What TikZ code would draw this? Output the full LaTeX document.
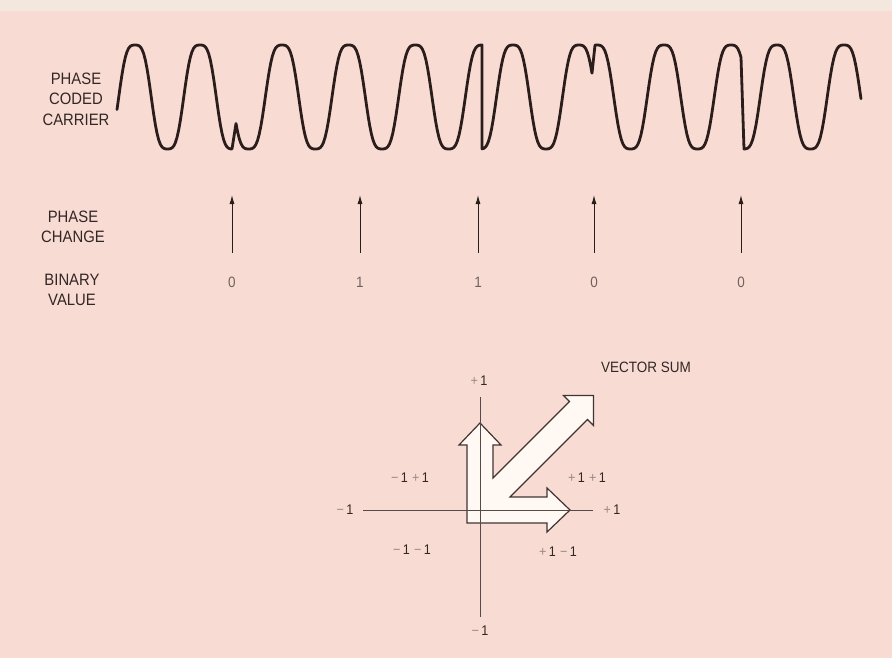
\documentclass[tikz,border=0pt]{standalone}
\usepackage{fontspec}
\setmainfont{Liberation Sans}[FakeStretch=0.9]
\usetikzlibrary{arrows.meta,positioning}
\definecolor{paperpink}{HTML}{F8DCD3}
\definecolor{paperedge}{HTML}{F3E7DE}
\definecolor{inkdark}{HTML}{2B1D1B}
\definecolor{labelgray}{HTML}{332624}
\definecolor{bitgray}{HTML}{6F615D}
\definecolor{softgray}{HTML}{9A8A86}
\definecolor{arrowfill}{HTML}{FFF8F3}
\newcommand{\sgnplus}{{\color{softgray}+}\kern2.5pt}
\newcommand{\sgnminus}{{\color{softgray}\char"2212}\kern2.5pt}

\tikzset{
  sidelabel/.style={align=center,font=\fontsize{16.5}{20.5}\selectfont,text=labelgray,inner sep=0pt},
  bitlabel/.style={font=\fontsize{15}{17}\selectfont,text=bitgray,inner sep=0pt},
  axlabel/.style={font=\fontsize{14}{16}\selectfont,text=labelgray,inner sep=0pt},
  carrier/.style={inkdark,line width=2.8pt,line join=round,line cap=round},
  pcarrow/.style={inkdark,line width=1pt,-{Latex[length=9pt,width=5pt]}},
  axisline/.style={inkdark!80,line width=0.9pt},
  blockarrow/.style={draw=inkdark!90,fill=arrowfill,line width=1.2pt,line join=miter},
  declare function={cw(\t)=(cos(\t)-0.1*cos(3*\t))/0.9;},
}

\begin{document}
\begin{tikzpicture}[x=1pt,y=-1pt]
  \fill[paperpink] (0,0) rectangle (892,658);
  \fill[paperedge] (0,0) rectangle (892,11);
  \useasboundingbox (0,0) rectangle (892,658);

  \node[sidelabel] (carrierlbl) at (76,99) {PHASE\\CODED\\CARRIER};
  \node[sidelabel] (changelbl) at (73,227) {PHASE\\CHANGE};
  \node[sidelabel] (binarylbl) at (72,290) {BINARY\\VALUE};

  \draw[carrier]
    plot[domain=117:232,samples=70] (\x,{97-52*cw((\x-135)/65*360)})
    -- plot[domain=236:482,samples=150] (\x,{97-52*cw((\x-282)/66.67*360)})
    -- plot[domain=482:592,samples=70] (\x,{97-52*cw((\x-513)/66*360)})
    -- plot[domain=595:741,samples=90] (\x,{97-52*cw((\x-597)/67*360)})
    -- plot[domain=744:861,samples=70] (\x,{97-52*cw((\x-777)/67*360)});

  \foreach \px/\bit [count=\i] in {232/0,360/1,478/1,594/0,741/0}{
    \coordinate (pcbot\i) at (\px,253);
    \coordinate (pctop\i) at (\px,195);
    \draw[pcarrow] (pcbot\i) -- (pctop\i);
    \node[bitlabel] (bit\i) at (\px,282) {\bit};
  }

  \draw[blockarrow] (467,523) -- (467,445) -- (459,445) -- (480,423) -- (501,445)
    -- (493,445) -- (493,478) -- (569.5,401.5) -- (563.5,395.5) -- (593.5,395.5)
    -- (593.5,425.5) -- (587.5,419.5) -- (510,497) -- (547,497) -- (547,488)
    -- (570,510) -- (547,532) -- (547,523) -- cycle;

  \coordinate (axN) at (480,397);
  \coordinate (axS) at (480,617);
  \coordinate (axW) at (363,510);
  \coordinate (axE) at (593,510);
  \draw[axisline] (axN) -- (axS);
  \draw[axisline] (axW) -- (axE);

  \node[axlabel] (ytop) at (479,381) {\sgnplus1};
  \node[axlabel] (ybot) at (480,631) {\sgnminus1};
  \node[axlabel] (xleft) at (345,510) {\sgnminus1};
  \node[axlabel] (xright) at (612,510) {\sgnplus1};
  \node[axlabel] (q2) at (410,478) {\sgnminus1\kern4pt\sgnplus1};
  \node[axlabel] (q1) at (587,478) {\sgnplus1\kern4pt\sgnplus1};
  \node[axlabel] (q3) at (412,550) {\sgnminus1\kern4pt\sgnminus1};
  \node[axlabel] (q4) at (558,552) {\sgnplus1\kern4pt\sgnminus1};
  \node[sidelabel,font=\fontsize{15}{18}\selectfont,anchor=west] (vsum) at (601,367) {VECTOR SUM};
\end{tikzpicture}
\end{document}
